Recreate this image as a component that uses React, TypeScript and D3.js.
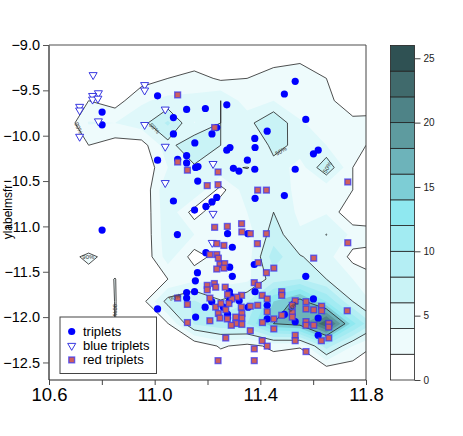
import React, { useEffect, useRef } from 'react';
import * as d3 from 'd3';

// [x, y] in data units
const triplets = [
  [11.011, -9.56], [11.121, -9.71], [10.801, -9.74], [10.801, -9.88], [11.071, -9.8], [11.071, -9.98],
  [11.152, -10.08], [11.011, -10.27], [11.087, -10.26], [11.121, -10.22], [11.121, -10.3], [11.155, -10.35],
  [11.164, -10.34], [11.163, -10.5], [11.071, -10.72], [11.151, -10.82], [11.532, -9.4], [11.491, -9.54],
  [11.273, -9.66], [11.192, -9.7], [11.572, -9.82], [11.426, -9.95], [11.235, -9.91], [11.217, -9.98],
  [11.379, -10.03], [11.38, -10.13], [11.285, -10.13], [11.273, -10.16], [11.619, -10.16], [11.601, -10.2],
  [11.351, -10.27], [11.298, -10.36], [11.319, -10.39], [11.379, -10.37], [11.532, -10.37], [11.491, -10.66],
  [11.38, -10.69], [11.235, -10.68], [11.217, -10.73], [11.194, -10.78], [10.801, -11.04], [11.086, -11.09],
  [11.162, -11.51], [11.154, -11.6], [11.151, -11.72], [11.121, -11.73], [11.121, -11.79], [11.191, -11.89],
  [11.155, -12.0], [11.011, -11.91], [11.216, -11.83], [11.276, -11.08], [11.353, -11.08], [11.294, -11.23],
  [11.194, -11.29], [11.377, -11.42], [11.284, -11.45], [11.294, -11.55], [11.38, -11.72], [11.572, -11.55],
  [11.601, -11.8], [11.426, -11.87], [11.426, -12.02], [11.619, -12.01], [11.532, -12.05], [11.619, -12.2],
  [11.491, -11.97], [11.283, -11.72], [11.288, -11.77], [11.283, -11.82], [11.32, -11.82], [11.354, -11.89],
  [11.276, -11.97], [11.276, -12.01], [11.26, -11.89],
];

const blueTriplets = [
  [10.767, -9.33], [10.787, -9.53], [10.765, -9.56], [10.765, -9.6], [10.785, -9.59], [10.716, -9.68],
  [10.716, -9.72], [10.787, -9.84], [10.716, -10.01], [10.962, -9.44], [10.962, -9.5], [11.04, -9.71],
  [10.962, -9.88], [11.04, -10.12], [11.04, -10.52], [11.221, -10.31], [11.221, -10.86], [11.218, -11.18],
];

const redTriplets = [
  [11.087, -9.55], [11.087, -10.29], [11.124, -10.38], [11.227, -9.91], [11.24, -10.4], [11.199, -10.55],
  [11.24, -10.54], [11.39, -10.6], [11.423, -10.6], [11.731, -10.51], [11.227, -11.01], [11.275, -11.0],
  [11.329, -10.97], [11.33, -11.06], [11.362, -11.08], [11.423, -11.08], [11.235, -11.19], [11.262, -11.21],
  [11.389, -11.19], [11.209, -11.31], [11.235, -11.31], [11.241, -11.35], [11.247, -11.42], [11.265, -11.41],
  [11.235, -11.47], [11.262, -11.46], [11.392, -11.4], [11.451, -11.46], [11.423, -11.51], [11.602, -11.35],
  [11.731, -11.18], [11.377, -11.62], [11.392, -11.65], [11.199, -11.65], [11.199, -11.7], [11.226, -11.63],
  [11.231, -11.67], [11.267, -11.67], [11.481, -11.72], [11.481, -11.76], [11.407, -11.76], [11.426, -11.8],
  [11.329, -11.76], [11.311, -11.78], [11.292, -11.8], [11.276, -11.75], [11.209, -11.79], [11.231, -11.89],
  [11.251, -11.85], [11.269, -11.92], [11.281, -11.85], [11.328, -11.89], [11.362, -11.88], [11.39, -11.87],
  [11.426, -11.94], [11.532, -11.82], [11.573, -11.83], [11.632, -11.88], [11.573, -11.91], [11.602, -11.92],
  [11.632, -11.93], [11.729, -11.93], [11.521, -11.87], [11.521, -11.95], [11.521, -12.0], [11.481, -11.98],
  [11.451, -12.02], [11.408, -12.06], [11.33, -11.96], [11.33, -12.01], [11.33, -12.08], [11.307, -12.0],
  [11.307, -12.07], [11.275, -12.02], [11.29, -12.09], [11.241, -11.96], [11.247, -12.01], [11.209, -12.04],
  [11.362, -12.15], [11.269, -12.23], [11.451, -12.13], [11.573, -12.05], [11.573, -12.09], [11.602, -12.09],
  [11.659, -12.07], [11.659, -12.11], [11.532, -12.2], [11.532, -12.26], [11.659, -12.23], [11.631, -12.26],
  [11.407, -12.26], [11.426, -12.32], [11.377, -12.35], [11.573, -12.38], [11.24, -12.48], [11.377, -12.48],
  [11.087, -11.79], [11.124, -11.86], [11.124, -12.06],
];

// density on a regular grid, rows top to bottom, columns left to right
const gridX0 = 10.65;
const gridXStep = 0.1;
const gridY0 = -9.122;
const gridYStep = -0.2459;
const density = [
  [0, 0, 0, 0, 0, 0, 0, 0, 0.5, 1, 0, 0, 0],
  [0, 0, 0, 1, 2, 3, 1.6, 2, 3.4, 4, 2, 0, 0],
  [0, 2, 1, 3.7, 4.6, 4.5, 6, 3, 4, 3, 2.3, 1.3, 0.5],
  [0, 4.15, 4, 5.2, 8.4, 3.95, 6, 5.28, 8, 4.2, 3.2, 2.3, 2.8],
  [0, 2, 1, 1, 5.25, 7.7, 6, 4, 6.5, 5.56, 4, 3, 1],
  [0, 0, 0, 0, 4, 5.7, 5.8, 6.04, 5.46, 3, 7.7, 2, 0],
  [0, 0, 0, 0, 5.9, 5.9, 1.2, 5.2, 5, 3.5, 2.55, 2, 0],
  [0, 0, 0, 0, 5.6, 1, 3.9, 4, 6, 3.5, 3.8, 0, 0],
  [0, 0, 0, 0, 5.4, 4, 4, 3, 7, 4.3, 6.04, 3.5, 3],
  [1.2, 2.4, 1.2, 0, 5, 1, 3, 3, 9, 6.15, 5, 1.2, 1],
  [0, 1.2, 2.04, 0.5, 2, 3.5, 3, 3.5, 7, 8, 6, 4, 2.2],
  [0, 0, 2.04, 1.07, 6.87, 8.2, 6.2, 7.8, 14, 17, 12, 6, 3],
  [0, 0, 2.04, 0, 1.9, 8.24, 9.4, 10, 16, 17, 24, 12.7, 6.5],
  [0, 0, 0, 0, 0, 0.24, 2.3, 1.3, 2.5, 2.2, 9, 4, 1.5],
  [0, 0, 0, 0, 0, 0, 0, 0, 0.5, 0, 1.3, 1, 0.5],
];

const levels = [0, 2, 4, 6, 8, 10, 12, 14, 16, 18, 20, 22, 24, 26];
const bandColors = ['#ffffff', '#eefbfc', '#dff8fa', '#c9f3f6', '#b4eef4', '#a2ebf2', '#8fe8f0', '#7dcdd5', '#6db3ba', '#5e9b9f', '#4e8387', '#406a6c', '#2f5153'];
const lineLevels = [2, 6, 16];

const xTicks = [10.6, 10.8, 11.0, 11.2, 11.4, 11.6, 11.8];
const xTickLabels = [10.6, 11.0, 11.4, 11.8];
const yTicks = [-9.0, -9.5, -10.0, -10.5, -11.0, -11.5, -12.0, -12.5];
const colorTicks = [0, 5, 10, 15, 20, 25];

const contourLabels = [
  { text: '90%', x: 10.712, y: -9.915, angle: 65 },
  { text: '50%', x: 10.999, y: -9.918, angle: 45 },
  { text: '50%', x: 11.478, y: -10.169, angle: -30 },
  { text: '50%', x: 11.654, y: -10.348, angle: -60 },
  { text: '90%', x: 10.749, y: -11.341, angle: 0 },
  { text: '90%', x: 10.85, y: -11.922, angle: 90 },
  { text: '90%', x: 11.077, y: -11.782, angle: -20 },
  { text: '10%', x: 11.523, y: -11.885, angle: -45 },
];

const legendItems = ['triplets', 'blue triplets', 'red triplets'];

const FONT = '"Liberation Sans", Arial, sans-serif';
const BLUE = '#0000ff';
const SQUARE_FILL = '#cf5f5c';
const SQUARE_STROKE = 'rgba(50,50,245,0.7)';

const App = () => {
  const svgRef = useRef<SVGSVGElement>(null);

  useEffect(() => {
    const svg = d3.select(svgRef.current);
    svg.selectAll('*').remove();

    const x = d3.scaleLinear().domain([10.6, 11.8]).range([49, 366]);
    const y = d3.scaleLinear().domain([-9, -12.7]).range([45, 380.6]);
    const c = d3.scaleLinear().domain([0, 26]).range([380, 45.4]);

    svg.append('defs').append('clipPath').attr('id', 'plot-clip')
      .append('rect')
      .attr('x', 49).attr('y', 45).attr('width', 317).attr('height', 335.6);

    // d3.contours puts value i at i + 0.5
    const rows = density.length;
    const cols = density[0].length;
    const toPx = d3.geoTransform({
      point(gx, gy) {
        this.stream.point(x(gridX0 + (gx - 0.5) * gridXStep), y(gridY0 + (gy - 0.5) * gridYStep));
      },
    });
    const path = d3.geoPath(toPx);
    const contours = d3.contours().size([cols, rows]);
    const flat = density.flat();

    const plot = svg.append('g').attr('clip-path', 'url(#plot-clip)');

    levels.slice(1, -1).forEach((level, i) => {
      plot.append('path')
        .attr('d', path(contours.contour(flat, level)))
        .attr('fill', bandColors[i + 1]);
    });

    lineLevels.forEach(level => {
      plot.append('path')
        .attr('d', path(contours.contour(flat, level)))
        .attr('fill', 'none')
        .attr('stroke', '#222')
        .attr('stroke-width', 0.8)
        .attr('stroke-linejoin', 'round');
    });

    // points
    const triangle = d3.symbol().type(d3.symbolTriangle).size(28);

    svg.append('g').selectAll('circle')
      .data(triplets)
      .enter()
      .append('circle')
      .attr('cx', d => x(d[0]))
      .attr('cy', d => y(d[1]))
      .attr('r', 3.6)
      .attr('fill', BLUE);

    svg.append('g').selectAll('path')
      .data(blueTriplets)
      .enter()
      .append('path')
      .attr('d', triangle())
      .attr('transform', d => `translate(${x(d[0])},${y(d[1])}) rotate(180)`)
      .attr('fill', '#fff')
      .attr('stroke', '#2222dd')
      .attr('stroke-width', 0.9);

    svg.append('g').selectAll('rect')
      .data(redTriplets)
      .enter()
      .append('rect')
      .attr('x', d => x(d[0]) - 2.9)
      .attr('y', d => y(d[1]) - 2.9)
      .attr('width', 5.8)
      .attr('height', 5.8)
      .attr('fill', SQUARE_FILL)
      .attr('stroke', SQUARE_STROKE)
      .attr('stroke-width', 1.4);

    svg.append('g').selectAll('text')
      .data(contourLabels)
      .enter()
      .append('text')
      .attr('transform', d => `translate(${x(d.x)},${y(d.y)}) rotate(${d.angle})`)
      .attr('text-anchor', 'middle')
      .attr('dy', '0.35em')
      .attr('font-family', FONT)
      .attr('font-size', 6)
      .attr('fill', '#333')
      .text(d => d.text);

    // frame
    const frame = svg.append('g').attr('fill', 'none');
    frame.append('line').attr('x1', 49).attr('x2', 366).attr('y1', 45).attr('y2', 45).attr('stroke', '#888').attr('stroke-width', 1.3);
    frame.append('line').attr('x1', 366).attr('x2', 366).attr('y1', 45).attr('y2', 380).attr('stroke', '#444');
    frame.append('line').attr('x1', 49).attr('x2', 49).attr('y1', 45).attr('y2', 380).attr('stroke', '#777').attr('stroke-width', 2);
    frame.append('line').attr('x1', 49).attr('x2', 366).attr('y1', 380).attr('y2', 380).attr('stroke', '#222');

    // axes
    const xAxis = svg.append('g')
      .attr('transform', 'translate(0,380)')
      .call(d3.axisBottom(x).tickValues(xTicks).tickSize(5).tickFormat(d => (xTickLabels.includes(+d) ? d3.format('.1f')(+d) : '')));
    xAxis.select('.domain').remove();
    xAxis.selectAll('line').attr('stroke', '#444');
    xAxis.selectAll('text').attr('font-family', FONT).attr('font-size', 18.5).attr('fill', '#000').attr('dy', '0.72em');

    const yAxis = svg.append('g')
      .attr('transform', 'translate(49,0)')
      .call(d3.axisLeft(y).tickValues(yTicks).tickSize(6).tickFormat(d => d3.format('.1f')(+d)));
    yAxis.select('.domain').remove();
    yAxis.selectAll('line').attr('stroke', '#555');
    yAxis.selectAll('text').attr('font-family', FONT).attr('font-size', 14.5).attr('fill', '#000');

    svg.append('text')
      .attr('transform', 'translate(12,212) rotate(-90)')
      .attr('text-anchor', 'middle')
      .attr('font-family', FONT)
      .attr('font-size', 12)
      .attr('fill', '#000')
      .text('ylabelmsfr');

    // legend
    const legend = svg.append('g').attr('font-family', FONT).attr('font-size', 13);
    legend.append('rect')
      .attr('x', 60).attr('y', 317).attr('width', 96.5).attr('height', 56.5)
      .attr('fill', '#fff').attr('stroke', '#444').attr('stroke-width', 1);
    legendItems.forEach((label, i) => {
      const ly = 331.5 + i * 14.2;
      if (i === 0) {
        legend.append('circle').attr('cx', 71.7).attr('cy', ly).attr('r', 3.6).attr('fill', BLUE);
      } else if (i === 1) {
        legend.append('path').attr('d', triangle())
          .attr('transform', `translate(71.7,${ly}) rotate(180)`)
          .attr('fill', '#fff').attr('stroke', '#2222dd').attr('stroke-width', 0.9);
      } else {
        legend.append('rect').attr('x', 68.8).attr('y', ly - 2.9).attr('width', 5.8).attr('height', 5.8)
          .attr('fill', SQUARE_FILL).attr('stroke', SQUARE_STROKE).attr('stroke-width', 1.4);
      }
      legend.append('text').attr('x', 83).attr('y', ly + 4.5).attr('fill', '#000').text(label);
    });

    // colorbar
    const bar = svg.append('g');
    bandColors.forEach((color, i) => {
      bar.append('rect')
        .attr('x', 390.5)
        .attr('y', c(levels[i + 1]))
        .attr('width', 24)
        .attr('height', c(levels[i]) - c(levels[i + 1]))
        .attr('fill', color)
        .attr('stroke', '#222')
        .attr('stroke-width', 0.8);
    });
    const cAxis = bar.append('g')
      .attr('transform', 'translate(414.5,0)')
      .call(d3.axisRight(c).tickValues(colorTicks).tickSize(6).tickFormat(d => String(d)));
    cAxis.select('.domain').remove();
    cAxis.selectAll('line').attr('stroke', '#444');
    cAxis.selectAll('text').attr('font-family', FONT).attr('font-size', 10).attr('fill', '#222');
  }, []);

  return (
    <svg
      ref={svgRef}
      width={463}
      height={436}
      style={{ position: 'absolute', left: 0, top: 0, background: '#fff' }}
    />
  );
};

export default App;
